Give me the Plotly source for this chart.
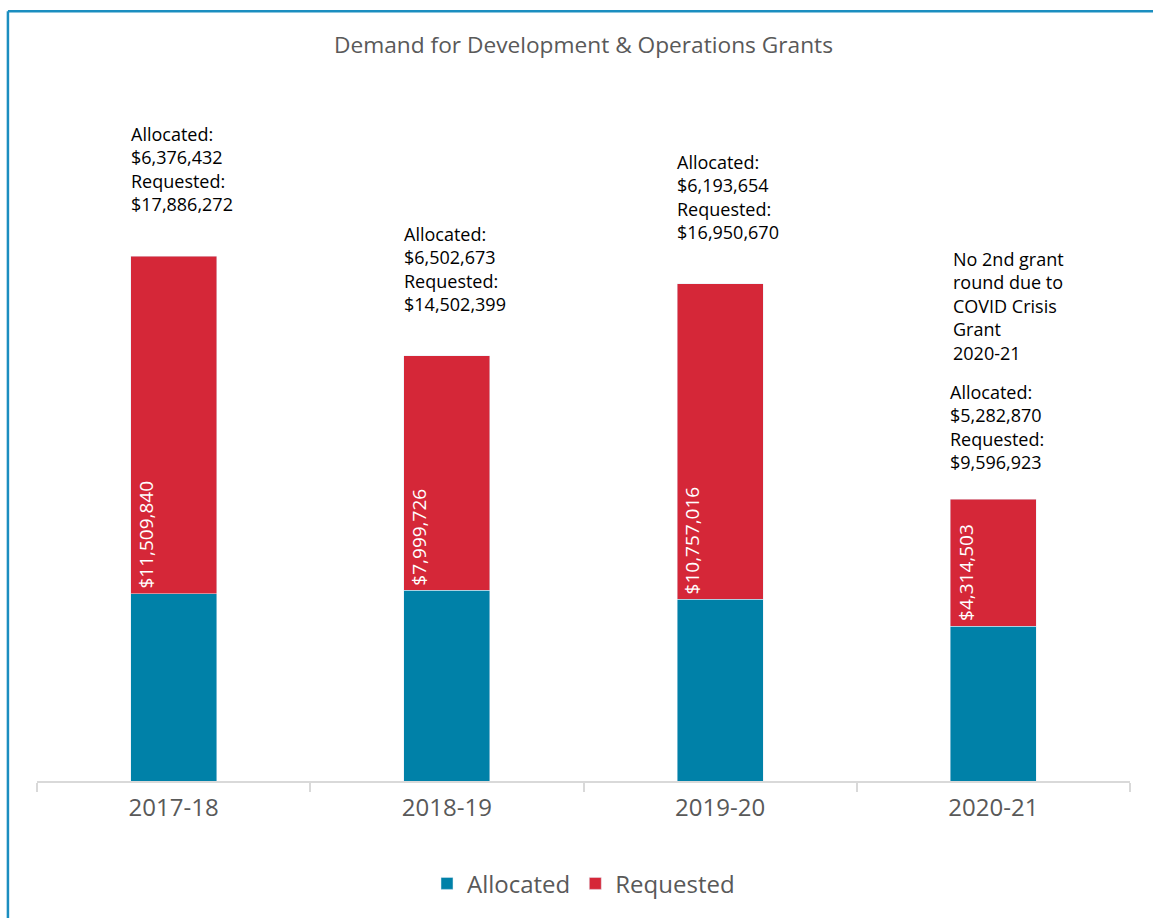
import plotly.graph_objects as go

years = ["2017-18", "2018-19", "2019-20", "2020-21"]
allocated = [6376432, 6502673, 6193654, 5282870]
difference = [11509840, 7999726, 10757016, 4314503]
requested = [17886272, 14502399, 16950670, 9596923]
notes = ["", "", "", "No 2nd grant<br>round due to<br>COVID Crisis<br>Grant<br>2020-21"]

TEAL = "#0081A8"
RED = "#D52738"
GRAY = "#595959"
FONT = "'Open Sans', Lato, sans-serif"
BAR_W = 0.315
LABEL_SHIFT = [38, 38, 38, 23]

fig = go.Figure()
fig.add_trace(go.Bar(
    x=years, y=allocated, name="Allocated", marker_color=TEAL,
    width=BAR_W, hoverinfo="skip",
))
fig.add_trace(go.Bar(
    x=years, y=difference, name="Requested", marker_color=RED,
    width=BAR_W, hoverinfo="skip",
))

for i, yr in enumerate(years):
    tot = allocated[i] + difference[i]
    # difference label inside the red segment (vertical, near left of bar)
    fig.add_annotation(
        x=yr, y=allocated[i], xref="x", yref="y", xanchor="center", yanchor="bottom",
        xshift=-28, yshift=3, showarrow=False, textangle=-90,
        text=f"${difference[i]:,}",
        font=dict(size=19, color="white", family=FONT),
    )
    fig.add_annotation(
        x=yr, y=tot, xref="x", yref="y", xanchor="left", yanchor="bottom",
        xshift=-45, yshift=LABEL_SHIFT[i], align="left", showarrow=False,
        text=f"Allocated:<br>${allocated[i]:,}<br>Requested:<br>${requested[i]:,}",
        font=dict(size=18, color="black", family=FONT),
    )
    if notes[i]:
        fig.add_annotation(
            x=yr, y=tot, xref="x", yref="y", xanchor="left", yanchor="bottom",
            xshift=-42, yshift=LABEL_SHIFT[i] + 109, align="left", showarrow=False,
            text=notes[i], font=dict(size=18, color="black", family=FONT),
        )

# teal frame (top and left edges)
fig.add_shape(type="line", xref="paper", yref="paper", x0=-0.0266, x1=1.03,
              y0=1.0935, y1=1.0935, line=dict(color="#1B8EC0", width=2.5))
fig.add_shape(type="line", xref="paper", yref="paper", x0=-0.0266, x1=-0.0266,
              y0=1.0935, y1=-0.2, line=dict(color="#1B8EC0", width=2.5))

fig.update_layout(
    width=1153, height=918,
    margin=dict(l=37, r=23, t=77, b=135),
    barmode="stack",
    plot_bgcolor="white", paper_bgcolor="white",
    font=dict(family=FONT, color=GRAY),
    title=dict(text="Demand for Development & Operations Grants",
               x=0.5, xref="paper", xanchor="center",
               y=1 - 45 / 918, yref="container", yanchor="middle",
               font=dict(size=22.7, color=GRAY, family=FONT)),
    showlegend=True,
    legend=dict(orientation="h", x=0.5, xanchor="center", y=-0.146, yanchor="middle",
                font=dict(size=24, color=GRAY, family=FONT), traceorder="normal",
                itemwidth=30),
    xaxis=dict(showline=True, linecolor="#D9D9D9", linewidth=2,
               ticks="outside", tickson="boundaries", ticklen=9, tickcolor="#D9D9D9",
               tickwidth=2, tickfont=dict(size=24, color=GRAY, family=FONT),
               ticklabelstandoff=4),
    yaxis=dict(visible=False, range=[0, 24000000], showgrid=False),
)

fig.write_html("out.html")
